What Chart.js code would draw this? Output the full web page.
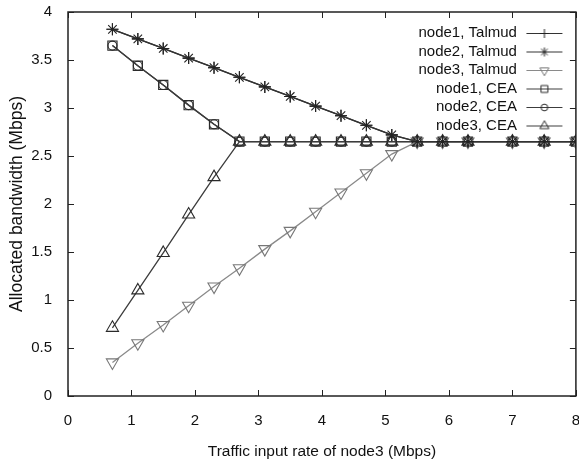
<!DOCTYPE html>
<html>
<head>
<meta charset="utf-8">
<script src="https://cdn.jsdelivr.net/npm/chart.js@4/dist/chart.umd.min.js"></script>
<style>
  html, body { margin: 0; padding: 0; background: #fff; overflow: hidden; }
  canvas { display: block; }
</style>
</head>
<body>
<canvas id="bwChart" width="584" height="465"></canvas>
<script>
// Traffic input rate of node3 (Mbps)
const inputRates = [0.7, 1.1, 1.5, 1.9, 2.3, 2.7, 3.1, 3.5, 3.9, 4.3, 4.7, 5.1, 5.5, 5.9, 6.3, 7, 7.5, 8];

// Allocated bandwidth (Mbps) per node, Talmud scheme
const talmudNode1 = [3.82, 3.72, 3.62, 3.52, 3.42, 3.32, 3.22, 3.12, 3.02, 2.92, 2.82, 2.72, 2.65, 2.65, 2.65, 2.65, 2.65, 2.65];
const talmudNode2 = [3.82, 3.72, 3.62, 3.52, 3.42, 3.32, 3.22, 3.12, 3.02, 2.92, 2.82, 2.72, 2.65, 2.65, 2.65, 2.65, 2.65, 2.65];
const talmudNode3 = [0.35, 0.55, 0.74, 0.94, 1.14, 1.33, 1.53, 1.72, 1.92, 2.12, 2.32, 2.52, 2.65, 2.65, 2.65, 2.65, 2.65, 2.65];

// Allocated bandwidth (Mbps) per node, CEA scheme
const ceaNode1 = [3.65, 3.44, 3.24, 3.03, 2.83, 2.65, 2.65, 2.65, 2.65, 2.65, 2.65, 2.65, 2.65, 2.65, 2.65, 2.65, 2.65, 2.65];
const ceaNode2 = [3.65, 3.44, 3.24, 3.03, 2.83, 2.65, 2.65, 2.65, 2.65, 2.65, 2.65, 2.65, 2.65, 2.65, 2.65, 2.65, 2.65, 2.65];
const ceaNode3 = [0.71, 1.10, 1.49, 1.89, 2.28, 2.65, 2.65, 2.65, 2.65, 2.65, 2.65, 2.65, 2.65, 2.65, 2.65, 2.65, 2.65, 2.65];

// Axis ticks
const xTicks = [0, 1, 2, 3, 4, 5, 6, 7, 8];
const yTicks = [0, 0.5, 1, 1.5, 2, 2.5, 3, 3.5, 4];

const FONT = 'Liberation Sans, Arial, sans-serif';

function series(label, values, style) {
  return {
    label: label,
    data: values.map((v, i) => ({ x: inputRates[i], y: v })),
    borderColor: style.line,
    borderWidth: 1.3,
    pointStyle: style.shape,
    rotation: style.rotation || 0,
    pointRadius: style.radius,
    pointBorderColor: style.marker,
    pointBorderWidth: 1.1,
    pointBackgroundColor: 'rgba(0,0,0,0)',
    pointHoverRadius: style.radius,
    tension: 0,
    fill: false
  };
}

const datasets = [
  series('node1, Talmud', talmudNode1, { line: '#333', marker: '#222', shape: 'cross', radius: 6 }),
  series('node2, Talmud', talmudNode2, { line: '#333', marker: '#222', shape: 'star', radius: 6 }),
  series('node3, Talmud', talmudNode3, { line: '#8a8a8a', marker: '#777', shape: 'triangle', rotation: 180, radius: 7 }),
  series('node1, CEA', ceaNode1, { line: '#3c3c3c', marker: '#2a2a2a', shape: 'rect', radius: 6.5 }),
  series('node2, CEA', ceaNode2, { line: '#3c3c3c', marker: '#2a2a2a', shape: 'circle', radius: 4.5 }),
  series('node3, CEA', ceaNode3, { line: '#3c3c3c', marker: '#2a2a2a', shape: 'triangle', radius: 7 })
];

// gnuplot-like key sample: short line with the marker in the middle
function keyIcon(ds) {
  const c = document.createElement('canvas');
  c.width = 48; c.height = 16;
  const g = c.getContext('2d');
  g.strokeStyle = ds.borderColor;
  g.lineWidth = 1.2;
  g.beginPath();
  g.moveTo(2, 8.5);
  g.lineTo(38, 8.5);
  g.stroke();
  g.strokeStyle = ds.pointBorderColor;
  g.fillStyle = 'rgba(0,0,0,0)';
  g.lineWidth = 1;
  Chart.helpers.drawPoint(g, {
    pointStyle: ds.pointStyle,
    rotation: ds.rotation,
    radius: ds.pointRadius * 0.75,
    borderWidth: 1
  }, 20, 8.5);
  return c;
}

// closed frame with inward tick marks on all four sides
const frameTicks = {
  id: 'frameTicks',
  afterDatasetsDraw(chart) {
    const { ctx, chartArea: a, scales } = chart;
    const len = 6;
    ctx.save();
    ctx.strokeStyle = '#222';
    ctx.lineWidth = 1;
    ctx.beginPath();
    xTicks.forEach(v => {
      const px = Math.round(scales.x.getPixelForValue(v)) + 0.5;
      ctx.moveTo(px, a.bottom); ctx.lineTo(px, a.bottom - len);
      ctx.moveTo(px, a.top); ctx.lineTo(px, a.top + len);
    });
    yTicks.forEach(v => {
      const py = Math.round(scales.y.getPixelForValue(v)) + 0.5;
      ctx.moveTo(a.left, py); ctx.lineTo(a.left + len, py);
      ctx.moveTo(a.right, py); ctx.lineTo(a.right - len, py);
    });
    ctx.stroke();
    ctx.lineWidth = 1.5;
    ctx.strokeRect(a.left, a.top, a.right - a.left, a.bottom - a.top);
    ctx.restore();
  }
};

// key sits in the top-right corner of the plot
const keyCorner = {
  id: 'keyCorner',
  afterLayout(chart) {
    const lg = chart.legend;
    if (!lg) return;
    const a = chart.chartArea;
    const w = lg.width, h = lg.height;
    lg.left = a.right - w;
    lg.right = a.right;
    lg.top = a.top + 10;
    lg.bottom = lg.top + h;
  }
};

const ctx = document.getElementById('bwChart').getContext('2d');

new Chart(ctx, {
  type: 'line',
  data: { datasets: datasets },
  plugins: [frameTicks, keyCorner],
  options: {
    responsive: false,
    animation: false,
    devicePixelRatio: 1,
    layout: { padding: { top: 12, right: 0, left: 0, bottom: 0 } },
    scales: {
      x: {
        type: 'linear',
        min: 0,
        max: 8,
        afterBuildTicks: s => { s.ticks = xTicks.map(v => ({ value: v })); },
        afterFit: s => { s.height = 69; s.paddingLeft = 0; s.paddingRight = 0; },
        ticks: { color: '#111', font: { family: FONT, size: 15 }, padding: 16 },
        grid: { display: false, drawTicks: false },
        border: { display: false },
        title: {
          display: true,
          text: 'Traffic input rate of node3 (Mbps)',
          color: '#111',
          font: { family: FONT, size: 15.5 },
          padding: { top: 0, bottom: 4 }
        }
      },
      y: {
        min: 0,
        max: 4,
        afterBuildTicks: s => { s.ticks = yTicks.map(v => ({ value: v })); },
        afterFit: s => { s.width = 68; s.paddingTop = 0; s.paddingBottom = 0; },
        ticks: {
          color: '#111',
          font: { family: FONT, size: 15 },
          padding: 16,
          callback: v => String(v)
        },
        grid: { display: false, drawTicks: false },
        border: { display: false },
        title: {
          display: true,
          text: 'Allocated bandwidth (Mbps)',
          color: '#111',
          font: { family: FONT, size: 17.5 },
          padding: { top: 7, bottom: 0 }
        }
      }
    },
    plugins: {
      tooltip: { enabled: false },
      legend: {
        position: 'chartArea',
        align: 'start',
        rtl: true,
        labels: {
          color: '#111',
          font: { family: FONT, size: 15 },
          usePointStyle: true,
          pointStyleWidth: 48,
          padding: 3.5,
          generateLabels: chart => {
            const items = Chart.defaults.plugins.legend.labels.generateLabels(chart);
            items.forEach(it => {
              it.pointStyle = keyIcon(chart.data.datasets[it.datasetIndex]);
              it.rotation = 0;
            });
            return items;
          }
        }
      }
    }
  }
});
</script>
</body>
</html>
